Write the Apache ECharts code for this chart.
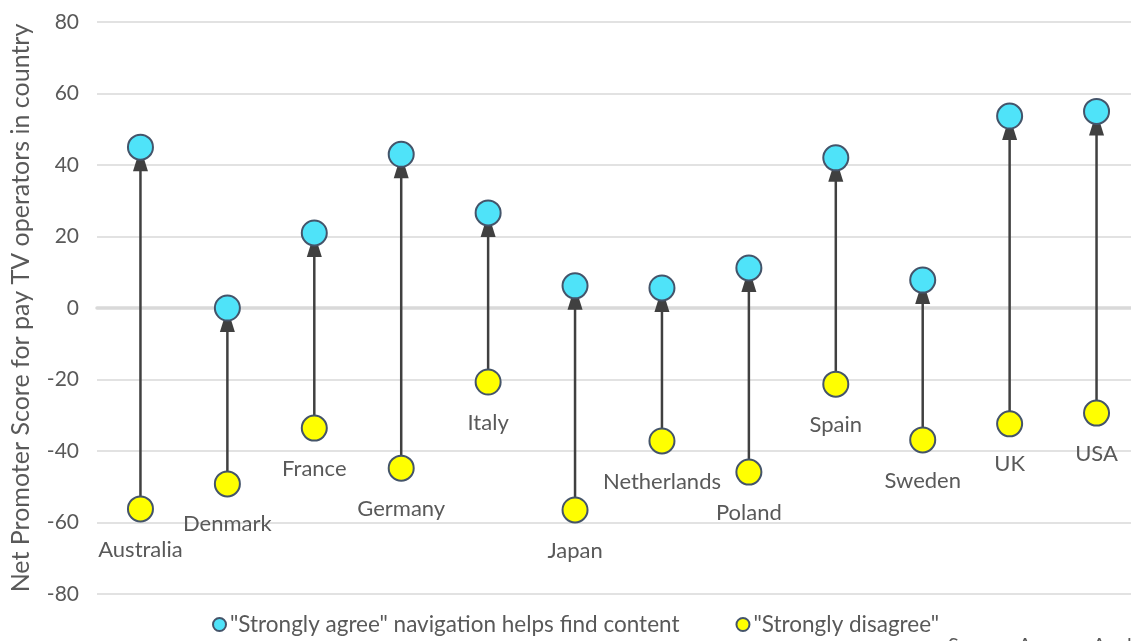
<!DOCTYPE html>
<html>
<head>
<meta charset="utf-8">
<script src="https://cdn.jsdelivr.net/npm/echarts@6/dist/echarts.min.js"></script>
<style>
  html, body { margin: 0; padding: 0; background: #fff; overflow: hidden; }
  #chart { width: 1140px; height: 641px; }
</style>
</head>
<body>
<div id="chart"></div>
<script>
// Net Promoter Score for pay TV operators, by country and by view on navigation
const countries = ['Australia', 'Denmark', 'France', 'Germany', 'Italy', 'Japan',
  'Netherlands', 'Poland', 'Spain', 'Sweden', 'UK', 'USA'];
const agreeScores = [45, 0, 21, 43, 26.6, 6.2, 5.6, 11.2, 42, 7.8, 53.7, 55];
const disagreeScores = [-56.2, -49.2, -33.6, -44.8, -20.7, -56.5, -37.2, -45.9, -21.3, -36.9, -32.4, -29.4];
const yTicks = [-80, -60, -40, -20, 0, 20, 40, 60, 80];

const agreeName = '"Strongly agree" navigation helps find content';
const disagreeName = '"Strongly disagree"';

const FONT = 'Lato, "Open Sans", sans-serif';
const TEXT = '#595959';

const arrowData = countries.map((c, i) => [i, disagreeScores[i], agreeScores[i]]);

const chart = echarts.init(document.getElementById('chart'), null, { renderer: 'canvas' });

chart.setOption({
  animation: false,
  backgroundColor: '#ffffff',
  textStyle: { fontFamily: FONT },
  grid: { left: 97, top: 22, right: 0, bottom: 47, containLabel: false },
  xAxis: {
    type: 'category',
    data: countries,
    boundaryGap: true,
    axisLine: { show: true, onZero: true, lineStyle: { color: '#d9d9d9', width: 3.5 } },
    axisTick: { show: false },
    axisLabel: { show: false },
    splitLine: { show: false }
  },
  yAxis: {
    type: 'value',
    min: yTicks[0],
    max: yTicks[yTicks.length - 1],
    interval: 20,
    name: 'Net Promoter Score for pay TV operators in country',
    nameLocation: 'middle',
    nameGap: 64,
    nameTextStyle: { color: TEXT, fontSize: 25, fontFamily: FONT },
    axisLine: { show: false },
    axisTick: { show: false },
    axisLabel: { color: TEXT, fontSize: 21, margin: 18, fontFamily: FONT },
    splitLine: { lineStyle: { color: '#d9d9d9', width: 1.5 } }
  },
  legend: {
    bottom: 0,
    left: 207,
    itemGap: 56,
    itemWidth: 13,
    itemHeight: 13,
    icon: 'circle',
    textStyle: { color: TEXT, fontSize: 22.5, fontFamily: FONT, padding: [0, 0, 0, -1] },
    data: [agreeName, disagreeName]
  },
  graphic: [{
    type: 'text',
    left: 948,
    top: 636,
    style: { text: 'Source: Ampere Analysis', fill: TEXT, fontSize: 20, fontFamily: FONT }
  }],
  series: [
    {
      // arrows from the "disagree" score up to the "agree" score
      type: 'custom',
      name: 'arrows',
      data: arrowData,
      encode: { x: 0, y: [1, 2] },
      z: 1,
      silent: true,
      renderItem: function (params, api) {
        const lo = api.coord([api.value(0), api.value(1)]);
        const hi = api.coord([api.value(0), api.value(2)]);
        const headLen = 24, headHalf = 7.5;
        return {
          type: 'group',
          children: [
            {
              type: 'line',
              shape: { x1: lo[0], y1: lo[1], x2: hi[0], y2: hi[1] + headLen - 2 },
              style: { stroke: '#404040', lineWidth: 2.5 }
            },
            {
              type: 'polygon',
              shape: { points: [[hi[0], hi[1]], [hi[0] - headHalf, hi[1] + headLen], [hi[0] + headHalf, hi[1] + headLen]] },
              style: { fill: '#404040' }
            }
          ]
        };
      }
    },
    {
      type: 'scatter',
      name: agreeName,
      data: agreeScores,
      symbol: 'circle',
      symbolSize: 25,
      z: 3,
      itemStyle: { color: '#4FE3F9', borderColor: '#44546A', borderWidth: 2, opacity: 1 }
    },
    {
      type: 'scatter',
      name: disagreeName,
      data: disagreeScores,
      symbol: 'circle',
      symbolSize: 25,
      z: 3,
      itemStyle: { color: '#FFFF00', borderColor: '#44546A', borderWidth: 2, opacity: 1 },
      label: {
        show: true,
        position: 'bottom',
        distance: 16,
        formatter: '{b}',
        color: TEXT,
        fontSize: 22,
        fontFamily: FONT
      }
    }
  ]
});
</script>
</body>
</html>
